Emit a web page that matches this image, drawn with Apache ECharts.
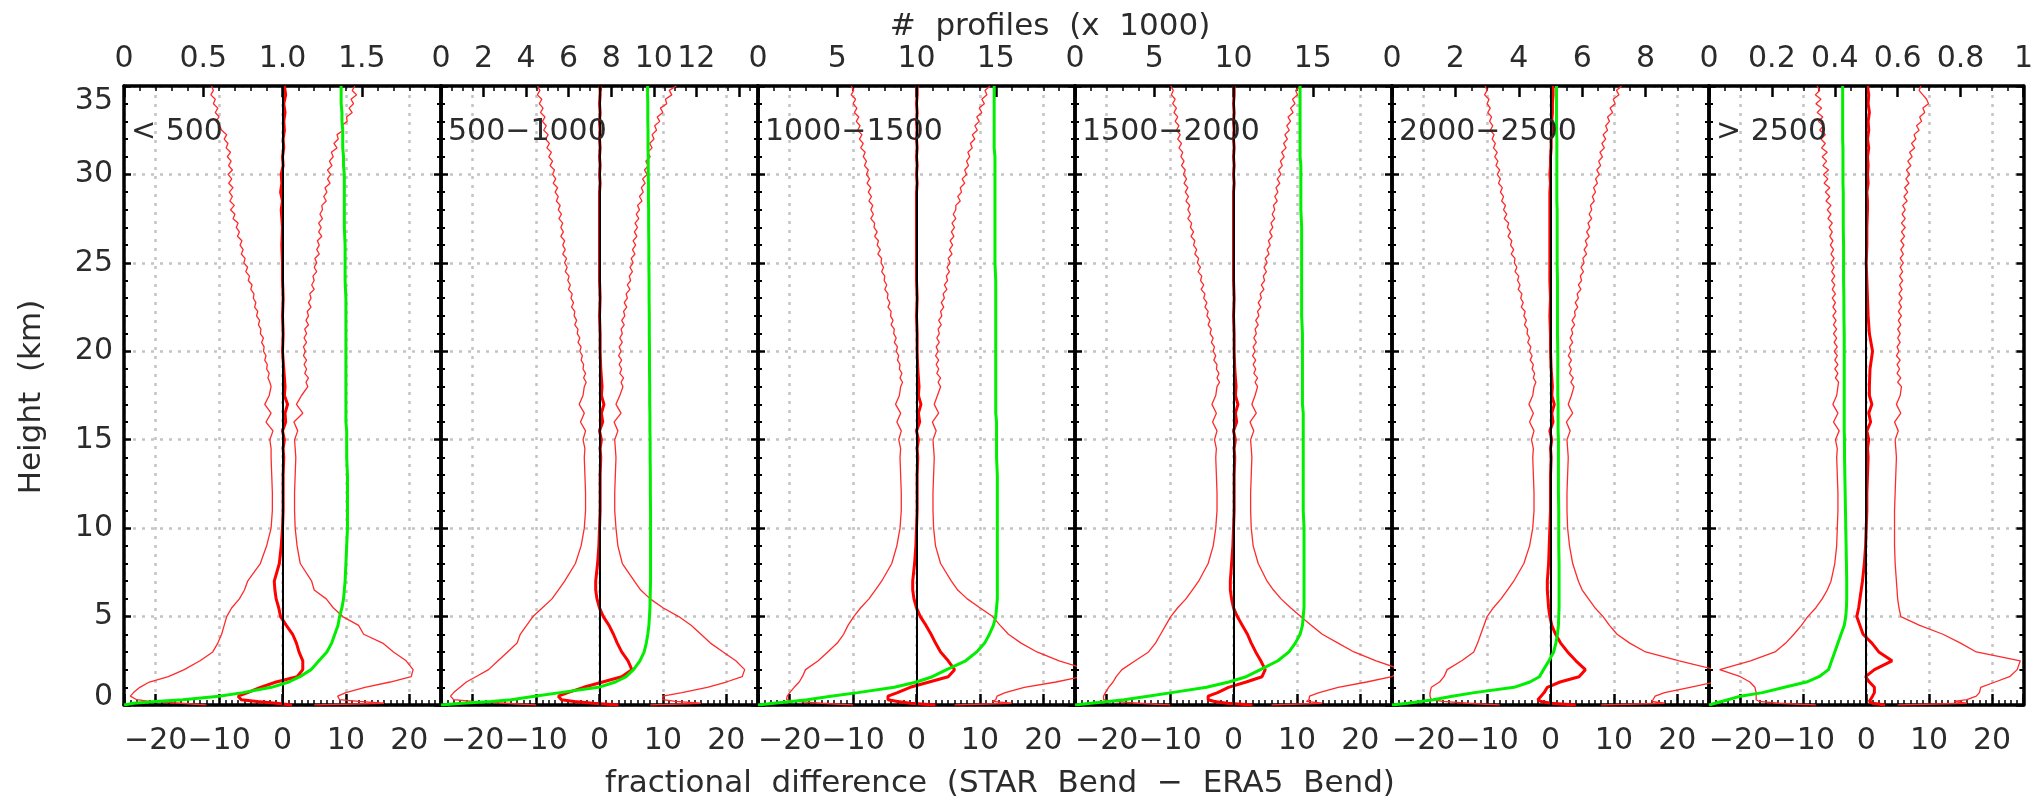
<!DOCTYPE html>
<html><head><meta charset="utf-8">
<script src="https://cdn.jsdelivr.net/npm/echarts@6/dist/echarts.min.js"></script>
<style>html,body{margin:0;padding:0;background:#fff}#c{width:2036px;height:804px}</style>
</head><body><div id="c"></div>
<script>
// heights (km) for mean / count curves
const heights = [
  0, 0.1, 0.2, 0.3, 0.5, 0.7,
  1, 1.3, 1.6, 2, 2.5, 3, 3.5, 4, 4.5, 5,
  5.5, 6, 6.5, 7, 8, 9, 10, 11, 12, 13, 14,
  14.5, 15, 15.5, 16, 16.5, 17, 17.5, 18,
  19, 20, 21, 22, 23, 24, 25, 26, 27, 28,
  28.5, 29, 29.5, 30, 30.5, 31, 31.5, 32, 32.5, 33, 33.5, 34, 34.5, 35
];
// heights (km) for the thin (spread) curves: as above up to 18 km, then every 0.25 km
const heightsLower = [
  0, 0.1, 0.2, 0.3, 0.5, 0.7,
  1, 1.3, 1.6, 2, 2.5, 3, 3.5, 4, 4.5, 5,
  5.5, 6, 6.5, 7, 8, 9, 10, 11, 12, 13, 14,
  14.5, 15, 15.5, 16, 16.5, 17, 17.5, 18
];
const heightsUpper = [
  18.25,18.5,18.75,19, 19.25,19.5,19.75,20, 20.25,20.5,20.75,21, 21.25,21.5,21.75,22,
  22.25,22.5,22.75,23, 23.25,23.5,23.75,24, 24.25,24.5,24.75,25, 25.25,25.5,25.75,26,
  26.25,26.5,26.75,27, 27.25,27.5,27.75,28, 28.25,28.5,28.75,29, 29.25,29.5,29.75,30,
  30.25,30.5,30.75,31, 31.25,31.5,31.75,32, 32.25,32.5,32.75,33, 33.25,33.5,33.75,34,
  34.25,34.5,34.75,35
];
const panelNames = ['< 500', '500\u22121000', '1000\u22121500', '1500\u22122000', '2000\u22122500', '> 2500'];
const countMax = [2, 14.9, 20, 20, 10, 1];
const countStep = [0.5, 2, 5, 5, 2, 0.2];
const countMinor = [5, 4, 5, 5, 4, 4];
const countLastLabel = [1.5, 12, 15, 15, 8, 1];
const diffTicks = [-20, -10, 0, 10, 20];
const heightMax = 35;

// ---- panel 1 (< 500)
const lo1 = [-12,-16,-21,-23,-24,-23.5,
  -22.5,-21,-18,-15.5,-13,-11,-10.2,-9.6,-9.2,-8.8,
  -8,-6.8,-6,-5.5,-3.5,-2.5,-1.8,-1.6,-1.6,-1.7,-1.8,
  -1.8,-2.0,-1.5,-2.6,-1.8,-2.8,-2.1,-1.8,
  -2.0,-2.3,-2.1,-2.5, -2.4,-2.8,-2.6,-3.0, -2.9,-3.3,-3.0,-3.5, -3.4,-3.8,-3.6,-4.1,
  -3.9,-4.4,-4.2,-4.6, -4.5,-5.0,-4.8,-5.4, -5.2,-5.8,-5.5,-6.1, -5.9,-6.5,-6.2,-6.7,
  -6.4,-7.1,-6.8,-7.3, -7.0,-7.8,-7.5,-8.2, -7.6,-8.3,-7.9,-8.4, -7.8,-8.5,-8.0,-8.6,
  -7.9,-8.5,-8.1,-8.7, -8.2,-8.9,-8.6,-9.2, -8.8,-9.6,-9.9,-10.5, -10.0,-10.6,-10.2,-10.9,
  -10.6,-11.3,-10.9,-11.2];
const hi1 = [5,16,12,9,8.7,10,
  13,17,20.3,20.6,19.5,17.5,15.8,12.8,12,9.5,
  8,6.9,5,4.6,2.8,2.3,2.0,1.9,1.9,2.0,2.1,
  2.0,1.9,2.4,1.8,3.2,2.2,3.0,4.0,
  3.7,4.1,3.5,3.8, 3.4,3.8,3.3,3.6, 3.3,3.8,3.4,3.8, 3.5,4.1,3.7,4.1,
  3.9,4.5,4.1,4.5, 4.3,5.0,4.6,5.0, 4.8,5.4,5.0,5.4, 5.1,5.8,5.4,5.8,
  5.5,6.2,5.7,6.1, 5.7,6.3,5.9,6.3, 6.2,6.9,6.5,7.0, 6.7,7.5,7.1,7.6,
  7.1,7.8,7.4,8.0, 7.7,8.6,8.1,8.8, 8.6,9.6,9.3,10.2, 10.1,11.0,10.5,11.2,
  10.8,11.7,11.0,11.4];
const mean1 = [1.5,-1,-4,-6.5,-7,-5.5,
  -3.5,-1,2.3,3.2,3.2,2.6,2.2,1.6,0.6,-0.3,
  -0.6,-1.0,-1.2,-1.3,-0.5,-0.2,0,0.1,0.1,0.1,0.2,
  0.1,0.3,0,0.5,0.4,0.8,0.3,0.4,
  0.2,0,0.1,0,0.1,0,0,-0.1,0,-0.2,
  0,-0.3,-0.1,-0.2,0.1,0,0.2,0.1,0.3,0.2,0.4,0.2,0.5,0.3];
const count1 = [0,0.06,0.2,0.37,0.6,0.75,
  0.93,1.04,1.11,1.18,1.23,1.28,1.31,1.33,1.35,1.36,
  1.375,1.385,1.39,1.395,1.40,1.405,1.41,1.41,1.41,1.41,1.405,
  1.405,1.405,1.405,1.40,1.40,1.40,1.40,1.40,
  1.40,1.40,1.40,1.40,1.40,1.395,1.395,1.395,1.39,1.39,
  1.39,1.39,1.39,1.39,1.385,1.385,1.38,1.38,1.38,1.375,1.375,1.37,1.37,1.37];

// ---- panel 2 (500-1000)
const lo2 = [-10,-15,-20,-23,-23.5,-23,
  -22,-21,-19.5,-17.5,-16,-14.5,-13,-12.5,-11.5,-10.5,
  -9,-7.5,-6.5,-5.5,-3.8,-2.9,-2.4,-2.2,-2.2,-2.3,-2.4,
  -2.3,-2.6,-2.2,-3.0,-2.4,-3.2,-2.6,-2.4,
  -2.1,-2.5,-2.2,-2.6, -2.5,-2.9,-2.7,-3.1, -2.9,-3.4,-3.1,-3.5, -3.4,-3.9,-3.6,-4.0,
  -3.9,-4.4,-4.1,-4.5, -4.3,-4.9,-4.6,-5.0, -4.8,-5.4,-5.1,-5.5, -5.2,-5.8,-5.4,-5.8,
  -5.5,-6.1,-5.7,-6.1, -5.8,-6.4,-6.0,-6.5, -6.2,-6.8,-6.5,-7.0, -6.6,-7.3,-6.9,-7.4,
  -7.1,-7.8,-7.4,-8.0, -7.6,-8.3,-7.9,-8.5, -8.1,-8.8,-8.4,-9.0, -8.6,-9.3,-8.9,-9.5,
  -9.1,-9.8,-9.4,-9.8];
const hi2 = [8,16,12,10,10,13,
  17,20,22.5,22.9,21.5,19.5,17.5,16,14.5,12.5,
  10,8,6.5,5.5,3.6,2.9,2.6,2.4,2.4,2.5,2.6,
  2.5,2.4,2.9,2.3,3.4,2.6,3.2,3.7,
  3.4,3.8,3.2,3.5, 3.1,3.5,3.0,3.4, 3.1,3.6,3.2,3.6, 3.4,3.9,3.5,4.0,
  3.8,4.3,3.9,4.4, 4.2,4.8,4.4,4.9, 4.7,5.2,4.8,5.3, 5.0,5.6,5.2,5.7,
  5.3,5.9,5.5,6.0, 5.6,6.2,5.8,6.3, 6.0,6.7,6.3,6.9, 6.6,7.2,6.8,7.5,
  7.1,7.7,7.3,8.0, 7.6,8.3,7.9,8.6, 8.3,9.0,8.7,9.5, 9.1,10.0,9.6,10.6,
  10.4,11.4,11.0,12.1];
const mean2 = [3,-1,-4,-6,-6.5,-5,
  -2.5,0.5,3.5,5.1,4.5,3.5,2.8,2.2,1.5,0.6,
  0,-0.4,-0.6,-0.6,-0.3,-0.1,0,0.1,0.1,0.1,0.2,
  0.1,0.3,0,0.5,0.3,0.7,0.3,0.4,
  0.2,0.1,0.1,0,0.1,0,0,0,0,0,
  0,0,0.1,0,0.1,0,0.1,0,0.1,0,0.1,0,0.1,0.1];
const count2 = [0,1.0,2.35,3.3,4.4,5.6,
  7.4,8.2,8.7,9.05,9.35,9.55,9.65,9.72,9.77,9.8,
  9.82,9.83,9.84,9.85,9.85,9.85,9.85,9.85,9.84,9.84,9.83,
  9.83,9.83,9.82,9.82,9.82,9.81,9.81,9.81,
  9.8,9.8,9.79,9.79,9.78,9.78,9.77,9.77,9.76,9.76,
  9.75,9.75,9.75,9.74,9.74,9.74,9.73,9.73,9.73,9.72,9.72,9.72,9.71,9.71];

// ---- panel 3 (1000-1500)
const lo3 = [-10,-15,-19,-20.5,-20.4,-20,
  -19.3,-18.5,-18,-17.5,-15.5,-14,-12.5,-11.5,-10.8,-9.9,
  -8.8,-7.5,-6.5,-5.5,-3.9,-3.1,-2.6,-2.4,-2.4,-2.5,-2.6,
  -2.5,-2.8,-2.4,-3.1,-2.5,-3.3,-2.7,-2.5,
  -2.2,-2.6,-2.3,-2.7, -2.6,-3.0,-2.8,-3.2, -3.0,-3.5,-3.2,-3.6, -3.5,-4.0,-3.7,-4.1,
  -4.0,-4.5,-4.2,-4.6, -4.5,-5.0,-4.7,-5.1, -5.0,-5.5,-5.2,-5.6, -5.5,-6.1,-5.7,-6.2,
  -6.0,-6.6,-6.2,-6.7, -6.6,-7.2,-6.8,-7.2, -6.9,-7.5,-7.1,-7.6, -7.2,-7.8,-7.4,-7.9,
  -7.6,-8.2,-7.9,-8.4, -8.1,-8.8,-8.4,-9.0, -8.6,-9.3,-8.9,-9.5, -9.1,-9.8,-9.4,-10.0,
  -9.6,-10.3,-9.9,-10.3];
const hi3 = [6,15,12,12.5,12.7,14,
  17,22,26,27,22.5,19,16.5,14.5,13.2,12,
  10,8,6.5,5.5,3.8,3.0,2.7,2.6,2.6,2.7,2.8,
  2.7,2.6,3.1,2.5,3.5,2.8,3.3,3.8,
  3.4,3.8,3.2,3.5, 3.1,3.5,3.0,3.4, 3.1,3.6,3.2,3.6, 3.4,3.9,3.5,4.0,
  3.8,4.3,3.9,4.4, 4.2,4.8,4.4,4.9, 4.7,5.2,4.8,5.3, 5.0,5.6,5.2,5.7,
  5.3,5.9,5.5,6.0, 5.6,6.2,5.8,6.2, 6.2,6.9,6.5,7.1, 6.9,7.6,7.2,7.9,
  7.6,8.2,7.9,8.4, 8.1,8.8,8.5,9.2, 8.8,9.6,9.2,9.9, 9.5,10.3,9.9,10.7,
  10.3,11.1,10.8,11.6];
const mean3 = [3,-1,-3,-4.5,-4.5,-3,
  -1,2,5,6.0,5.0,3.8,3.0,2.3,1.5,0.6,
  0,-0.4,-0.6,-0.6,-0.3,-0.1,0,0.1,0.1,0.1,0.2,
  0.1,0.3,0,0.5,0.3,0.7,0.3,0.4,
  0.2,0.1,0.1,0,0.1,0,0,0,0,0,
  0,0,0.1,0,0.1,0,0.1,0,0.1,0,0.1,0,0.1,0.1];
const count3 = [0,1.0,2.1,3.1,4.6,6.3,
  8.6,10.0,11.0,11.9,13.1,13.8,14.3,14.6,14.85,15.0,
  15.05,15.1,15.1,15.1,15.1,15.1,15.1,15.1,15.1,15.1,15.05,
  15.05,15.05,15.05,15.05,15.0,15.0,15.0,15.0,
  15.0,15.0,15.0,15.0,15.0,15.0,14.95,14.95,14.95,14.95,
  14.95,14.95,14.95,14.95,14.95,14.95,14.9,14.9,14.9,14.9,14.9,14.9,14.9,14.9];

// ---- panel 4 (1500-2000)
const lo4 = [-10,-15,-19,-20.5,-20.5,-20.2,
  -19.7,-19,-18.5,-17.6,-15.5,-13.4,-12.3,-11.5,-10.7,-9.9,
  -8.8,-7.5,-6.5,-5.5,-4.0,-3.2,-2.8,-2.6,-2.6,-2.7,-2.8,
  -2.7,-3.0,-2.6,-3.3,-2.7,-3.4,-2.8,-2.6,
  -2.2,-2.6,-2.3,-2.7, -2.6,-3.1,-2.8,-3.2, -3.0,-3.5,-3.2,-3.7, -3.5,-4.0,-3.7,-4.2,
  -4.0,-4.5,-4.2,-4.7, -4.5,-5.1,-4.7,-5.2, -5.0,-5.6,-5.2,-5.7, -5.5,-6.1,-5.8,-6.3,
  -6.1,-6.7,-6.3,-6.8, -6.6,-7.2,-6.8,-7.2, -6.9,-7.5,-7.1,-7.6, -7.2,-7.8,-7.4,-7.9,
  -7.6,-8.2,-7.8,-8.3, -8.0,-8.6,-8.2,-8.8, -8.4,-9.0,-8.6,-9.2, -8.8,-9.4,-9.0,-9.6,
  -9.2,-9.8,-9.5,-9.9];
const hi4 = [6,14,11.5,11.9,12,13.5,
  16.5,21,25,26.5,22.5,19,16.5,14,12.3,10.6,
  9,7.5,6.3,5.3,3.9,3.1,2.8,2.7,2.7,2.8,2.9,
  2.8,2.7,3.2,2.6,3.6,2.9,3.4,3.8,
  3.4,3.8,3.2,3.5, 3.1,3.5,3.0,3.4, 3.1,3.6,3.2,3.6, 3.4,3.9,3.5,4.0,
  3.8,4.3,3.9,4.4, 4.2,4.8,4.4,4.9, 4.7,5.2,4.8,5.3, 5.0,5.6,5.3,5.8,
  5.5,6.1,5.7,6.2, 5.9,6.5,6.1,6.5, 6.3,6.9,6.5,7.0, 6.7,7.3,6.9,7.5,
  7.1,7.7,7.4,8.0, 7.6,8.3,7.9,8.5, 8.1,8.8,8.4,9.0, 8.6,9.4,9.0,9.7,
  9.3,10.1,9.8,10.6];
const mean4 = [3,-1,-3,-4,-4,-2.5,
  -0.8,2,4.5,5.0,4.3,3.5,2.8,2.2,1.4,0.6,
  0,-0.3,-0.5,-0.5,-0.3,-0.1,0,0.1,0.1,0.1,0.2,
  0.1,0.3,0,0.5,0.3,0.7,0.3,0.4,
  0.2,0.1,0.1,0,0.1,0,0,0,0,0,
  0,0,0.1,0,0.1,0,0.1,0,0.1,0,0.1,0,0.1,0.1];
const count4 = [0,1.0,2.1,3.1,4.6,6.1,
  8.3,9.7,10.8,11.7,12.8,13.5,13.9,14.2,14.35,14.4,
  14.45,14.45,14.45,14.45,14.45,14.45,14.45,14.4,14.4,14.4,14.4,
  14.4,14.4,14.4,14.4,14.4,14.35,14.35,14.35,
  14.35,14.35,14.35,14.3,14.3,14.3,14.3,14.3,14.3,14.25,
  14.25,14.25,14.25,14.25,14.25,14.2,14.2,14.2,14.2,14.2,14.2,14.2,14.2,14.2];

// ---- panel 5 (2000-2500)
const lo5 = [-8,-13,-17,-18.8,-19,-19,
  -18.8,-17.5,-16.8,-16.3,-14,-12.1,-11.5,-11,-10.5,-10,
  -9,-7.8,-6.8,-5.8,-4.2,-3.3,-2.8,-2.6,-2.6,-2.7,-2.8,
  -2.7,-3.0,-2.6,-3.3,-2.7,-3.4,-2.8,-2.6,
  -2.3,-2.7,-2.5,-2.9, -2.7,-3.2,-2.9,-3.3, -3.1,-3.6,-3.3,-3.7, -3.6,-4.1,-3.8,-4.2,
  -4.0,-4.6,-4.3,-4.7, -4.5,-5.1,-4.8,-5.2, -5.0,-5.6,-5.3,-5.7, -5.6,-6.2,-5.8,-6.3,
  -6.1,-6.7,-6.3,-6.8, -6.6,-7.3,-6.9,-7.4, -7.1,-7.7,-7.4,-7.9, -7.6,-8.2,-7.9,-8.4,
  -8.0,-8.6,-8.3,-8.8, -8.4,-9.0,-8.7,-9.2, -8.9,-9.5,-9.1,-9.6, -9.3,-9.9,-9.5,-10.0,
  -9.7,-10.4,-10.0,-10.3];
const hi5 = [8,18,16,16,16.5,18,
  22,26,27,26,20.3,15,12.5,10.5,9.3,8.3,
  7,6,5,4.4,3.5,3.0,2.7,2.6,2.6,2.7,2.8,
  2.7,2.6,3.1,2.5,3.5,2.8,3.3,3.7,
  3.2,3.6,3.0,3.3, 2.9,3.3,2.8,3.2, 3.0,3.5,3.1,3.5, 3.3,3.8,3.4,3.9,
  3.8,4.3,3.9,4.4, 4.2,4.8,4.4,4.9, 4.7,5.2,4.8,5.3, 5.1,5.7,5.3,5.8,
  5.5,6.1,5.7,6.2, 5.9,6.5,6.1,6.5, 6.3,6.9,6.6,7.1, 6.8,7.4,7.1,7.7,
  7.3,7.9,7.6,8.2, 7.8,8.5,8.1,8.7, 8.3,9.0,8.7,9.3, 9.0,9.8,9.4,10.2,
  9.9,10.8,10.4,11.2];
const mean5 = [4,0,-1.5,-2,-1.5,-1,
  -0.5,1.5,4.5,5.5,4.0,2.7,1.6,0.8,0.2,-0.1,
  -0.3,-0.4,-0.5,-0.5,-0.3,-0.2,-0.1,0,0,0,0.1,
  0,0.2,-0.1,0.4,0.2,0.6,0.2,0.3,
  0.1,0,0,-0.1,0,-0.1,-0.1,-0.1,-0.1,-0.1,
  -0.1,-0.1,0,-0.1,0,0,0.1,0.1,0.2,0.2,0.3,0.3,0.4,0.4];
const count5 = [0,0.5,0.9,1.3,1.9,2.6,
  3.85,4.35,4.65,4.78,4.95,5.1,5.17,5.22,5.25,5.26,
  5.27,5.27,5.27,5.27,5.27,5.26,5.26,5.26,5.25,5.25,5.25,
  5.25,5.25,5.24,5.24,5.24,5.24,5.23,5.23,
  5.23,5.23,5.22,5.22,5.22,5.22,5.21,5.21,5.21,5.21,
  5.2,5.2,5.2,5.2,5.2,5.2,5.2,5.2,5.19,5.19,5.19,5.19,5.19,5.19];

// ---- panel 6 (> 2500)
const lo6 = [-8,-14,-17,-17.5,-17.5,-17.5,
  -17.7,-18.5,-20,-23.3,-18.4,-14.5,-12.8,-11.5,-10.3,-9.3,
  -8.0,-7.0,-6.2,-5.6,-5.0,-4.7,-4.6,-4.5,-4.5,-4.6,-4.7,
  -4.6,-4.9,-4.3,-5.2,-4.5,-5.3,-4.7,-4.5,
  -4.4,-4.9,-4.5,-5.0, -4.5,-5.0,-4.6,-5.1, -4.6,-5.1,-4.7,-5.2, -4.7,-5.2,-4.8,-5.3,
  -4.8,-5.3,-4.9,-5.4, -4.9,-5.4,-5.0,-5.5, -5.0,-5.5,-5.1,-5.6, -5.1,-5.6,-5.2,-5.7,
  -5.3,-5.8,-5.4,-5.9, -5.4,-6.1,-5.6,-6.2, -5.6,-6.4,-5.8,-6.5, -5.8,-6.7,-6.1,-6.8,
  -6.0,-6.9,-6.3,-7.0, -6.2,-7.1,-6.5,-7.2, -6.5,-7.4,-6.8,-7.6, -6.9,-7.8,-7.1,-8.0,
  -7.2,-8.1,-7.4,-7.8];
const hi6 = [5,16,14,16,17.5,18,
  18.2,20.5,22.8,24.0,24.5,17.5,15,12.2,8.5,5.5,
  5.2,5.0,4.9,4.8,4.6,4.5,4.5,4.5,4.6,4.7,4.8,
  4.7,4.6,5.1,4.5,5.5,4.8,5.4,5.6,
  5.0,5.5,4.9,5.3, 4.9,5.4,4.8,5.2, 4.9,5.4,5.0,5.4, 5.0,5.5,5.1,5.6,
  5.1,5.6,5.2,5.7, 5.2,5.7,5.3,5.8, 5.3,5.8,5.4,5.9, 5.4,5.9,5.5,6.0,
  5.5,6.1,5.6,6.2, 5.6,6.2,5.7,6.2, 5.8,6.5,6.0,6.6, 6.1,6.8,6.3,6.9,
  6.4,7.1,6.6,7.3, 6.9,7.7,7.2,7.9, 7.6,8.4,8.0,8.8, 8.5,9.3,9.0,9.9,
  9.6,9.0,8.4,8.7];
const mean6 = [3,1,0.5,0.5,1.0,1.3,
  1.3,0.5,-0.1,1.3,4.1,2.0,0.9,-0.5,-1.0,-1.5,
  -1.2,-1.0,-0.8,-0.6,-0.3,-0.1,0,0.1,0.1,0.2,0.3,
  0.2,0.4,0.1,0.7,0.4,0.9,0.5,0.5,
  0.6,1.0,0.5,0.3,0.2,0.1,0,0.1,0.1,0.2,
  0.2,0.1,0.3,0.2,0.3,0.2,0.4,0.2,0.4,0.3,0.5,0.3,0.4,0.2];
const count6 = [0,0.02,0.04,0.06,0.1,0.17,
  0.24,0.31,0.35,0.38,0.39,0.40,0.41,0.42,0.43,0.435,
  0.437,0.438,0.438,0.438,0.437,0.436,0.435,0.434,0.433,0.432,0.431,
  0.431,0.431,0.43,0.43,0.43,0.43,0.43,0.43,
  0.43,0.43,0.43,0.429,0.429,0.428,0.428,0.428,0.427,0.427,
  0.427,0.427,0.426,0.426,0.426,0.426,0.426,0.425,0.425,0.425,0.425,0.425,0.425,0.425];

const lows = [lo1, lo2, lo3, lo4, lo5, lo6];
const highs = [hi1, hi2, hi3, hi4, hi5, hi6];
const means = [mean1, mean2, mean3, mean4, mean5, mean6];
const counts = [count1, count2, count3, count4, count5, count6];

// ---------- layout / style ----------
const L0 = 124, PW = 317, TOP = 86, PH = 619;
const FONT = 'DejaVu Sans', FS = 30, TFS = 31, TXT = '#2b2b2b';
const heightsThin = heightsLower.concat(heightsUpper);
const minus = v => (v < 0 ? '\u2212' + (-v) : String(v));
const zip = xs => xs.map((x, i) => [x, heights[i]]);
const zipThin = xs => xs.map((x, i) => [x, heightsThin[i]]);
const axisLineStyle = {color: '#000', width: 3.5};
const dotted = {color: '#c4c4c4', type: [3, 6], width: 2.5};
const labelStyle = {fontFamily: FONT, fontSize: FS, color: TXT, fontWeight: 'normal'};

const grids = [], xAxes = [], yAxes = [], series = [], graphics = [];
for (let k = 0; k < 6; k++) {
  grids.push({left: L0 + PW * k, top: TOP, width: PW, height: PH});
  xAxes.push({
    type: 'value', gridIndex: k, position: 'bottom', min: -25, max: 25, splitNumber: 5,
    axisLine: {show: true, onZero: false, lineStyle: axisLineStyle},
    axisTick: {show: true, inside: true, length: 11, lineStyle: {color: '#000', width: 2.5}},
    minorTick: {show: true, splitNumber: 10, length: 5, lineStyle: {color: '#000', width: 1.5}},
    axisLabel: Object.assign({margin: 21, formatter: v => (diffTicks.indexOf(v) >= 0 ? minus(v) : '')}, labelStyle),
    splitLine: {show: true, lineStyle: dotted}
  });
  const last = countLastLabel[k];
  xAxes.push({
    type: 'value', gridIndex: k, position: 'top', min: 0, max: countMax[k], interval: countStep[k],
    axisLine: {show: true, onZero: false, lineStyle: axisLineStyle},
    axisTick: {show: true, inside: true, length: 11, lineStyle: {color: '#000', width: 2.5}},
    minorTick: {show: true, splitNumber: countMinor[k], length: 5, lineStyle: {color: '#000', width: 1.5}},
    axisLabel: Object.assign({
      margin: 12, showMaxLabel: k === 5,
      formatter: v => {
        if (v > last + 1e-9) return '';
        if (v === 0) return '0';
        if (k === 0) return v.toFixed(1);
        if (k === 5) return v >= 1 - 1e-9 ? '1' : v.toFixed(1);
        return String(Math.round(v));
      }
    }, labelStyle),
    splitLine: {show: false}
  });
  yAxes.push({
    type: 'value', gridIndex: k, position: 'left', min: 0, max: heightMax, interval: 5,
    axisLine: {show: true, onZero: false, lineStyle: axisLineStyle},
    axisTick: {show: true, inside: true, length: 7, lineStyle: {color: '#000', width: 2.5}},
    minorTick: {show: true, splitNumber: 5, length: 4, lineStyle: {color: '#000', width: 2}},
    axisLabel: Object.assign({show: k === 0, margin: 11, verticalAlignMaxLabel: 'top',
      formatter: v => (v === 0 ? '{b|0}' : String(v)),
      rich: {b: {fontFamily: FONT, fontSize: FS, color: TXT, padding: [0, 0, 15, 0]}}}, labelStyle),
    splitLine: {show: true, lineStyle: dotted}
  });
  yAxes.push({
    type: 'value', gridIndex: k, position: 'right', min: 0, max: heightMax, interval: 5,
    axisLine: {show: true, onZero: false, lineStyle: axisLineStyle},
    axisTick: {show: true, inside: true, length: 7, lineStyle: {color: '#000', width: 2.5}},
    minorTick: {show: true, splitNumber: 5, length: 4, lineStyle: {color: '#000', width: 2}},
    axisLabel: {show: false},
    splitLine: {show: false}
  });
  const xb = 2 * k, xt = 2 * k + 1, yl = 2 * k;
  series.push({
    type: 'line', xAxisIndex: xb, yAxisIndex: yl, data: zipThin(lows[k]), showSymbol: false, symbol: 'none',
    lineStyle: {color: '#ff2a2a', width: 1.3}, silent: true, z: 3,
    markLine: {silent: true, symbol: 'none', label: {show: false}, animation: false,
      lineStyle: {color: '#000', width: 2, type: 'solid'}, data: [{xAxis: 0}]}
  });
  series.push({
    type: 'line', xAxisIndex: xb, yAxisIndex: yl, data: zipThin(highs[k]), showSymbol: false, symbol: 'none',
    lineStyle: {color: '#ff2a2a', width: 1.3}, silent: true, z: 3
  });
  series.push({
    type: 'line', xAxisIndex: xb, yAxisIndex: yl, data: zip(means[k]), showSymbol: false, symbol: 'none',
    lineStyle: {color: '#ff0000', width: 3}, silent: true, z: 4
  });
  series.push({
    type: 'line', xAxisIndex: xt, yAxisIndex: yl, data: zip(counts[k]), showSymbol: false, symbol: 'none',
    lineStyle: {color: '#00ee00', width: 3}, silent: true, z: 5
  });
  graphics.push({
    type: 'text', x: L0 + PW * k + 7, y: 132, z: 10,
    style: {text: panelNames[k], font: `${FS}px "${FONT}"`, fill: TXT, textVerticalAlign: 'middle'}
  });
}
graphics.push({type: 'text', x: 1050, y: 27, style: {text: '#  profiles  (x  1000)', font: `${TFS}px "${FONT}"`, fill: TXT, textAlign: 'center', textVerticalAlign: 'middle'}});
graphics.push({type: 'text', x: 1000, y: 784, style: {text: 'fractional  difference  (STAR  Bend  \u2212  ERA5  Bend)', font: `${TFS}px "${FONT}"`, fill: TXT, textAlign: 'center', textVerticalAlign: 'middle'}});
graphics.push({type: 'text', x: 32, y: 397, rotation: Math.PI / 2, style: {text: 'Height  (km)', font: `${TFS}px "${FONT}"`, fill: TXT, textAlign: 'center', textVerticalAlign: 'middle'}});

const chart = echarts.init(document.getElementById('c'), null, {renderer: 'canvas'});
chart.setOption({
  animation: false, backgroundColor: '#fff',
  grid: grids, xAxis: xAxes, yAxis: yAxes, series: series, graphic: graphics
});
</script></body></html>
